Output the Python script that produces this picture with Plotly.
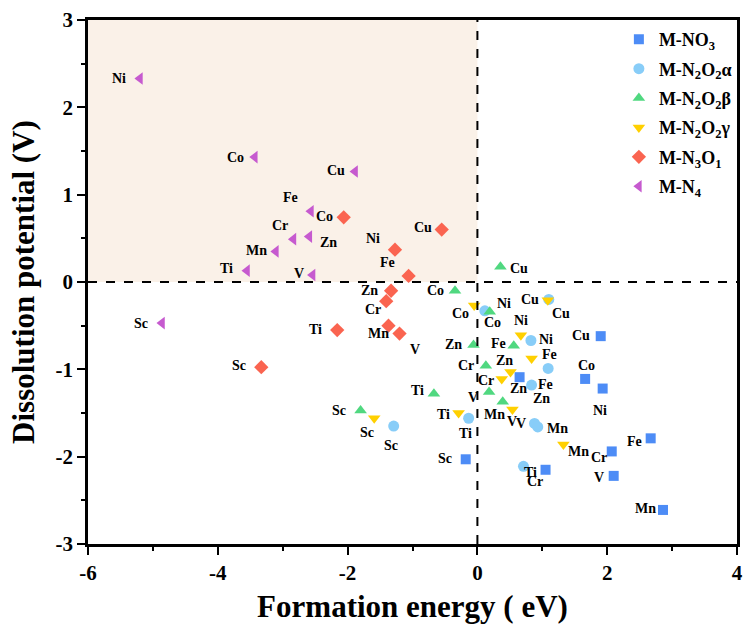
import plotly.graph_objects as go

metals = ["Sc", "Ti", "V", "Cr", "Mn", "Fe", "Co", "Ni", "Cu", "Zn"]

# M-NO3
no3_x = [-0.18, 1.05, 2.10, 2.07, 2.86, 2.67, 1.66, 1.93, 1.90, 0.65]
no3_y = [-2.03, -2.15, -2.22, -1.94, -2.61, -1.79, -1.11, -1.22, -0.62, -1.09]
# M-N2O2 alpha
a_x = [-1.29, -0.135, 0.88, 0.71, 0.93, 1.09, 0.115, 0.825, 1.10, 0.835]
a_y = [-1.65, -1.56, -1.62, -2.11, -1.66, -0.99, -0.33, -0.67, -0.20, -1.18]
# M-N2O2 beta
b_x = [-1.80, -0.67, 0.18, 0.13, 0.39, 0.56, -0.345, 0.19, 0.355, -0.06]
b_y = [-1.47, -1.28, -1.26, -0.96, -1.37, -0.73, -0.10, -0.34, 0.175, -0.72]
# M-N2O2 gamma
g_x = [-1.59, -0.29, 0.54, 0.375, 1.325, 0.835, -0.05, 0.67, 1.085, 0.51]
g_y = [-1.56, -1.50, -1.46, -1.11, -1.86, -0.875, -0.27, -0.61, -0.21, -1.03]
# M-N3O1
n3_x = [-3.33, -2.16, -1.20, -1.405, -1.37, -1.06, -2.06, -1.27, -0.55, -1.33]
n3_y = [-0.975, -0.55, -0.59, -0.22, -0.50, 0.07, 0.74, 0.37, 0.60, -0.10]
# M-N4
n4_x = [-4.86, -3.55, -2.54, -2.835, -3.105, -2.565, -3.43, -5.20, -1.885, -2.59]
n4_y = [-0.47, 0.13, 0.08, 0.49, 0.35, 0.81, 1.43, 2.33, 1.265, 0.52]

series_names = ["M-NO<sub>3</sub>", "M-N<sub>2</sub>O<sub>2</sub>α", "M-N<sub>2</sub>O<sub>2</sub>β",
                "M-N<sub>2</sub>O<sub>2</sub>γ", "M-N<sub>3</sub>O<sub>1</sub>", "M-N<sub>4</sub>"]

x_tick_vals = [-6, -4, -2, 0, 2, 4]
x_tick_labels = ["-6", "-4", "-2", "0", "2", "4"]
y_tick_vals = [-3, -2, -1, 0, 1, 2, 3]
y_tick_labels = ["-3", "-2", "-1", "0", "1", "2", "3"]

# styles
symbols = ["square", "circle", "triangle-up", "triangle-down", "diamond", "triangle-left"]
colors = ["#4D8CF6", "#88CDF8", "#50D880", "#FFD000", "#FA6450", "#C65ACF"]
sizes = [10, 11, 11, 11, 11, 11]

# label offsets in pixels (dx right, dy down) for Sc..Zn
offsets = [
    [(-21, -1), (-15, 3), (-15, 2), (-13, 6), (-18, -1), (-16, 3), (1, -13), (-3, 22), (-20, -1), (-1, 11)],
    [(-3, 19), (-3, 15), (-14, 0), (12, 15), (20, 2), (-3, 16), (8, 12), (15, -1), (12, 14), (10, 13)],
    [(-22, 0), (-16, -3), (-16, 5), (-20, 0), (-8, 13), (-15, -2), (-20, 0), (14, -8), (19, 2), (-20, 0)],
    [(-7, 14), (-15, 1), (0, 12), (-16, 2), (15, 7), (18, -4), (-14, 8), (0, -15), (-18, -1), (-6, -11)],
    [(-22, -2), (-22, -1), (15, 16), (-13, 8), (-10, 8), (-21, -13), (-19, -1), (-22, -11), (-19, -2), (-22, 0)],
    [(-21, 0), (-21, -2), (-14, -2), (-13, -14), (-19, -1), (-20, -14), (-19, 0), (-21, 0), (-19, -1), (19, 6)],
]

xs = [no3_x, a_x, b_x, g_x, n3_x, n4_x]
ys = [no3_y, a_y, b_y, g_y, n3_y, n4_y]

FONT = "Liberation Serif, Times New Roman, serif"

fig = go.Figure()

annotations = []
for i in range(6):
    fig.add_trace(go.Scatter(
        x=xs[i], y=ys[i], mode="markers", name=series_names[i], legendgroup="g%d" % i,
        marker=dict(symbol=symbols[i], color=colors[i], size=sizes[i], line=dict(width=0)),
        text=metals, hoverinfo="text+x+y",
    ))
    for j, m in enumerate(metals):
        dx, dy = offsets[i][j]
        annotations.append(dict(
            x=xs[i][j], y=ys[i][j], xref="x", yref="y", text="<b>%s</b>" % m,
            showarrow=False, xshift=dx, yshift=-dy,
            font=dict(family=FONT, size=14, color="black", weight="bold"),
        ))

fig.update_layout(
    width=749, height=631,
    margin=dict(l=88, r=6, t=20, b=87),
    plot_bgcolor="white", paper_bgcolor="white",
    showlegend=True,
    legend=dict(x=0.818, y=0.998, xanchor="left", yanchor="top",
                bgcolor="rgba(0,0,0,0)", borderwidth=0,
                font=dict(family=FONT, size=18, color="black", weight="bold"),
                itemsizing="trace", tracegroupgap=3),
    annotations=annotations,
    shapes=[
        dict(type="rect", xref="x", yref="y", x0=-6, x1=0, y0=0, y1=3,
             fillcolor="#FAF1E8", line=dict(width=0), layer="below"),
        dict(type="line", xref="x", yref="y", x0=0, x1=0, y0=-3, y1=3,
             line=dict(color="black", width=2, dash="dash"), layer="above"),
        dict(type="line", xref="x", yref="y", x0=-6, x1=4, y0=0, y1=0,
             line=dict(color="black", width=2, dash="dash"), layer="above"),
    ],
)

fig.update_xaxes(
    range=[-6, 4], tickmode="array", tickvals=x_tick_vals,
    ticktext=["<b>%s</b>" % t for t in x_tick_labels],
    showgrid=False, zeroline=False,
    showline=True, linecolor="black", linewidth=2.5, mirror=True,
    ticks="outside", ticklen=8, tickwidth=2, tickcolor="black",
    minor=dict(dtick=1, tick0=-6, ticks="outside", ticklen=4, tickwidth=2, tickcolor="black", showgrid=False),
    tickfont=dict(family=FONT, size=21, color="black", weight="bold"),
    title=dict(text="<b>Formation energy ( eV)</b>", font=dict(family=FONT, size=31, color="black", weight="bold"), standoff=12),
)
fig.update_yaxes(
    range=[-3, 3], tickmode="array", tickvals=y_tick_vals,
    ticktext=["<b>%s</b>" % t for t in y_tick_labels],
    showgrid=False, zeroline=False,
    showline=True, linecolor="black", linewidth=2.5, mirror=True,
    ticks="outside", ticklen=8, tickwidth=2, tickcolor="black",
    minor=dict(dtick=0.5, tick0=-3, ticks="outside", ticklen=4, tickwidth=2, tickcolor="black", showgrid=False),
    tickfont=dict(family=FONT, size=21, color="black", weight="bold"),
    title=dict(text="<b>Dissolution potential (V)</b>", font=dict(family=FONT, size=31, color="black", weight="bold"), standoff=12),
)

fig.write_html("out.html")
